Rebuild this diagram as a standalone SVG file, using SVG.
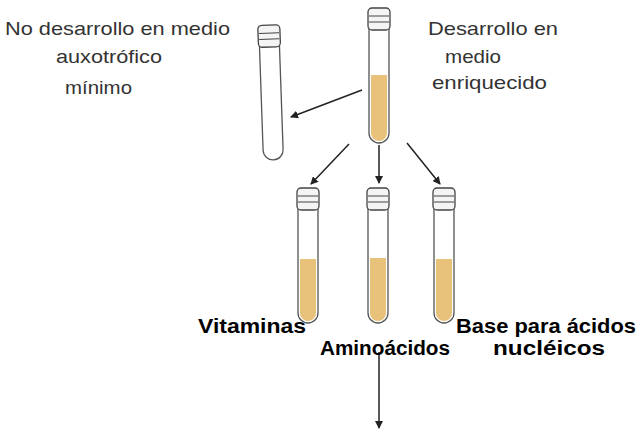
<svg xmlns="http://www.w3.org/2000/svg" width="640" height="434" viewBox="0 0 640 434">
<style>
.t{font-family:"Liberation Sans",Arial,sans-serif;font-size:19px;fill:#333}
.b{font-family:"Liberation Sans",Arial,sans-serif;font-size:20px;font-weight:bold;fill:#000}
.glass{fill:#fff;stroke:#555;stroke-width:1.3}
.cap{fill:#f4f4f4;stroke:#444;stroke-width:1.3}
.liq{fill:#e8c27a}
.c{stroke:#222;stroke-width:1.5;fill:none;marker-end:url(#a)}
</style>
<defs>
<marker id="a" markerWidth="8" markerHeight="8" refX="7" refY="4" orient="auto" markerUnits="userSpaceOnUse"><path d="M0,0 L8,4 L0,8 Z" fill="#222"/></marker>
<g id="tube"><path class="glass" d="M0,0 V105 a10,10 0 0 0 20,0 V0 Z"/><rect class="cap" x="-1" y="-20" width="22" height="22" rx="4"/><path d="M0,-12 h20 M0,-6 h20" stroke="#444"/></g>
</defs>
<g id="top-tube"><use href="#tube" x="369" y="28"/><path class="liq" d="M371,75 V133 a8,8 0 0 0 16,0 V75 Z"/></g>
<g id="left-tube" transform="rotate(-2 271 90)"><use href="#tube" x="261" y="45"/></g>
<g id="vit-tube"><use href="#tube" x="298" y="208"/><path class="liq" d="M300,259 V313 a8,8 0 0 0 16,0 V259 Z"/></g>
<g id="amino-tube"><use href="#tube" x="368" y="208"/><path class="liq" d="M370,258 V313 a8,8 0 0 0 16,0 V258 Z"/></g>
<g id="base-tube"><use href="#tube" x="434" y="208"/><path class="liq" d="M436,259 V313 a8,8 0 0 0 16,0 V259 Z"/></g>
<g id="connectors">
<path class="c" d="M362,90 L291,117"/>
<path class="c" d="M349,144 L311,184"/>
<path class="c" d="M379,145 L379,183"/>
<path class="c" d="M407,143 L440,184"/>
<path class="c" d="M379,352 L379,428"/>
</g>
<g id="labels">
<text class="t" x="5" y="35" textLength="225" lengthAdjust="spacingAndGlyphs">No desarrollo en medio</text>
<text class="t" x="56" y="63" textLength="106" lengthAdjust="spacingAndGlyphs">auxotrófico</text>
<text class="t" x="65" y="94" textLength="67" lengthAdjust="spacingAndGlyphs">mínimo</text>
<text class="t" x="428" y="35" textLength="130" lengthAdjust="spacingAndGlyphs">Desarrollo en</text>
<text class="t" x="445" y="63" textLength="56" lengthAdjust="spacingAndGlyphs">medio</text>
<text class="t" x="432" y="89" textLength="115" lengthAdjust="spacingAndGlyphs">enriquecido</text>
<text class="b" x="198" y="333" textLength="108" lengthAdjust="spacingAndGlyphs">Vitaminas</text>
<text class="b" x="320" y="355" textLength="130" lengthAdjust="spacingAndGlyphs">Aminoácidos</text>
<text class="b" x="456" y="333" textLength="180" lengthAdjust="spacingAndGlyphs">Base para ácidos</text>
<text class="b" x="493" y="355" textLength="112" lengthAdjust="spacingAndGlyphs">nucléicos</text>
</g>
</svg>
